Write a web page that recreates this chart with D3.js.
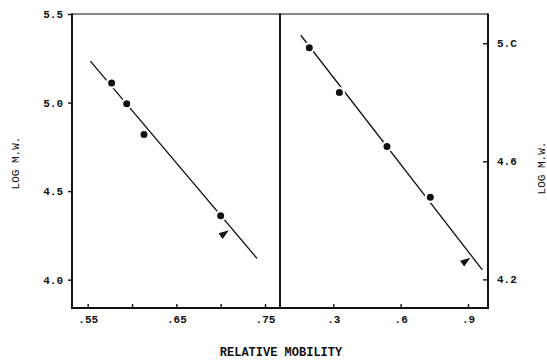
<!DOCTYPE html>
<html>
<head>
<meta charset="utf-8">
<script src="https://cdn.jsdelivr.net/npm/d3@7/dist/d3.min.js"></script>
<style>
    body { margin: 0; background: #fff; }
    svg { display: block; }
    text { font-family: "Liberation Mono", "DejaVu Sans Mono", monospace; fill: #111; }
    .tick text { font-size: 11px; font-weight: bold; }
    .tick line { stroke: #111; stroke-width: 1.4; }
    .domain { display: none; }
    .frame { fill: none; stroke: #111; }
    .fit { stroke: #111; stroke-width: 1.3; fill: none; }
    .label { font-size: 12px; font-weight: bold; }
</style>
</head>
<body>
<div id="plot"></div>
<script>
// left panel: relative mobility vs log M.W.
var leftMobility = [0.577, 0.594, 0.6135, 0.700];
var leftLogMW = [5.111, 4.993, 4.819, 4.361];
var leftArrow = [0.703, 4.257];
var leftFit = [[0.553, 5.234], [0.741, 4.120]];

// right panel
var rightMobility = [0.193, 0.327, 0.539, 0.732];
var rightLogMW = [4.985, 4.833, 4.650, 4.478];
var rightArrow = [0.886, 4.260];
var rightFit = [[0.155, 5.027], [0.964, 4.232]];

var leftXTicks = [0.55, 0.60, 0.65, 0.70, 0.75];
var leftXLabels = ['.55', '', '.65', '', '.75'];
var leftYTicks = [4.0, 4.5, 5.0, 5.5];
var rightXTicks = [0.3, 0.6, 0.9];
var rightXLabels = ['.3', '.6', '.9'];
var rightYTicks = [4.2, 4.6, 5.0];
var rightYLabels = ['4.2', '4.6', '5.C'];

var width = 547,
    height = 362,
    plotTop = 14,
    plotBottom = 308,
    leftEdge = 72,
    mid = 280,
    rightEdge = 488;

var xL = d3.scaleLinear().domain([0.5323, 0.7669]).range([leftEdge, mid]);
var yL = d3.scaleLinear().domain([3.84, 5.5]).range([plotBottom, plotTop]);
var xR = d3.scaleLinear().domain([0.0625, 0.989]).range([mid, rightEdge]);
var yR = d3.scaleLinear().domain([4.103, 5.099]).range([plotBottom, plotTop]);

var svg = d3.select('#plot')
    .append('svg')
    .attr('width', width)
    .attr('height', height);

// frames: thin top, heavy sides and bottom
svg.append('line').attr('class', 'frame')
    .attr('x1', leftEdge).attr('y1', plotTop).attr('x2', rightEdge).attr('y2', plotTop)
    .style('stroke-width', 1.2);
[leftEdge, mid, rightEdge].forEach(function(x) {
    svg.append('line').attr('class', 'frame')
        .attr('x1', x).attr('y1', plotTop - 0.5).attr('x2', x).attr('y2', plotBottom + 1)
        .style('stroke-width', 2);
});
svg.append('line').attr('class', 'frame')
    .attr('x1', leftEdge - 1).attr('y1', plotBottom).attr('x2', rightEdge + 1).attr('y2', plotBottom)
    .style('stroke-width', 2);

// axes
svg.append('g')
    .attr('transform', 'translate(0,' + plotBottom + ')')
    .call(d3.axisBottom(xL).tickValues(leftXTicks)
        .tickFormat(function(d, i) { return leftXLabels[i]; })
        .tickSizeInner(-4).tickSizeOuter(0).tickPadding(7));

svg.append('g')
    .attr('transform', 'translate(0,' + plotBottom + ')')
    .call(d3.axisBottom(xR).tickValues(rightXTicks)
        .tickFormat(function(d, i) { return rightXLabels[i]; })
        .tickSizeInner(-4).tickSizeOuter(0).tickPadding(7));

svg.append('g')
    .attr('transform', 'translate(' + leftEdge + ',0)')
    .call(d3.axisLeft(yL).tickValues(leftYTicks)
        .tickFormat(d3.format('.1f'))
        .tickSizeInner(4).tickSizeOuter(0).tickPadding(5));

svg.append('g')
    .attr('transform', 'translate(' + rightEdge + ',0)')
    .call(d3.axisRight(yR).tickValues(rightYTicks)
        .tickFormat(function(d, i) { return rightYLabels[i]; })
        .tickSizeInner(-5).tickSizeOuter(0).tickPadding(9));

// fitted lines, then dots with a white halo so the line looks broken
function drawPanel(xs, ys, mob, mw, fit, arrow) {
    var g = svg.append('g');
    g.append('line')
        .attr('class', 'fit')
        .attr('x1', xs(fit[0][0])).attr('y1', ys(fit[0][1]))
        .attr('x2', xs(fit[1][0])).attr('y2', ys(fit[1][1]));

    g.selectAll('circle')
        .data(mob)
        .enter()
        .append('circle')
        .attr('cx', function(d) { return xs(d); })
        .attr('cy', function(d, i) { return ys(mw[i]); })
        .attr('r', 4.6)
        .attr('fill', '#111')
        .attr('stroke', '#fff')
        .attr('stroke-width', 2.2);

    g.append('path')
        .attr('d', d3.symbol().type(d3.symbolTriangle).size(30))
        .attr('transform', 'translate(' + xs(arrow[0]) + ',' + ys(arrow[1]) + ') rotate(55) scale(0.85,1.4)')
        .attr('fill', '#111');
}

drawPanel(xL, yL, leftMobility, leftLogMW, leftFit, leftArrow);
drawPanel(xR, yR, rightMobility, rightLogMW, rightFit, rightArrow);

// axis titles
svg.append('text')
    .attr('class', 'label')
    .attr('text-anchor', 'middle')
    .attr('transform', 'translate(281,356)')
    .text('RELATIVE MOBILITY');

svg.append('text')
    .attr('class', 'label')
    .attr('text-anchor', 'middle')
    .style('font-size', '11px')
    .style('font-weight', 'normal')
    .attr('transform', 'translate(19,163) rotate(-90)')
    .text('LOG M.W.');

svg.append('text')
    .attr('class', 'label')
    .attr('text-anchor', 'middle')
    .style('font-size', '11px')
    .style('font-weight', 'normal')
    .attr('transform', 'translate(545,168) rotate(-90)')
    .text('LOG M.W.');
</script>
</body>
</html>
